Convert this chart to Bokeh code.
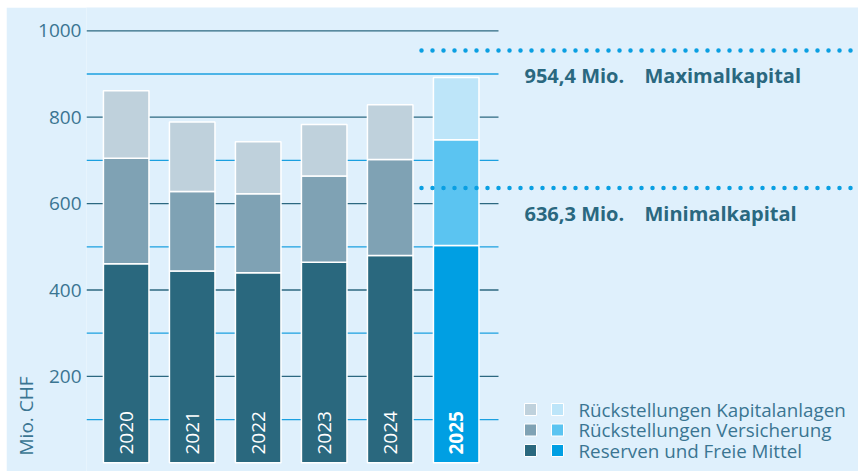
import math
from bokeh.plotting import figure
from bokeh.models import FixedTicker, Range1d, Title
from bokeh.core.properties import value
from bokeh.embed import file_html
from bokeh.resources import INLINE

# ---------------- data ----------------
years = ["2020", "2021", "2022", "2023", "2024", "2025"]
reserven = [461, 444, 440, 464, 480, 503]          # Reserven und Freie Mittel
versicherung = [244, 184, 183, 200, 222, 245]      # Rückstellungen Versicherung
kapitalanlagen = [156, 161, 120, 119, 127, 144]    # Rückstellungen Kapitalanlagen
y_ticks = [200, 400, 600, 800, 1000]
grid_major = [200, 400, 600, 800, 1000]
grid_minor = [100, 300, 500, 700, 900]
max_kapital = 954.4
min_kapital = 636.3
max_value_label = "954,4 Mio."
min_value_label = "636,3 Mio."
max_name = "Maximalkapital"
min_name = "Minimalkapital"
legend_labels = ["Rückstellungen Kapitalanlagen", "Rückstellungen Versicherung", "Reserven und Freie Mittel"]
axis_title = "Mio. CHF"

# ---------------- styles ----------------
BG = "#dff0fc"
C_KAP = ["#bfd1dc"] * 5 + ["#bde5f9"]
C_VER = ["#7fa2b4"] * 5 + ["#5bc4f1"]
C_RES = ["#2a687e"] * 5 + ["#009fe3"]
MAJOR = "#2c6880"
MINOR = "#1ba0e0"
DOTS = "#0a9fe2"
TXT = "#3a7592"
BOLDTXT = "#2a6880"
FONT = "Open Sans"

FIG_L, FIG_T = 6, 7
FIG_W, FIG_H = 858 - FIG_L, 471 - FIG_T
FRAME_L = 86                      # page px of frame left
PX = 66.0                         # px per category
X0 = -(125.7 - FRAME_L) / PX
X1 = X0 + (858 - FRAME_L) / PX
def xpx(px):                      # page px -> data x
    return (px - FRAME_L) / PX + X0

YPX = 0.432                       # px per unit
ZERO_PX = 462.3                   # page px of value 0
Y0 = -(471 - ZERO_PX) / YPX
Y1 = (ZERO_PX - FIG_T) / YPX
def ypx(py):                      # page px -> data y
    return (ZERO_PX - py) / YPX

p = figure(width=FIG_W, height=FIG_H, output_backend="svg", toolbar_location=None,
           x_range=Range1d(X0, X1), y_range=Range1d(Y0, Y1),
           x_axis_location=None, min_border_left=FRAME_L - FIG_L, min_border_right=0,
           min_border_top=0, min_border_bottom=0)
p.margin = (FIG_T, 0, 0, FIG_L)
p.background_fill_color = BG
p.border_fill_color = BG
p.outline_line_color = None
p.grid.visible = False

ax = p.yaxis[0]
ax.ticker = FixedTicker(ticks=y_ticks)
ax.axis_line_color = None
ax.major_tick_line_color = None
ax.minor_tick_line_color = None
ax.major_tick_out = 0
ax.major_tick_in = 0
ax.major_label_standoff = 5
ax.major_label_text_font = FONT
ax.major_label_text_font_size = "19px"
ax.major_label_text_color = TXT

# axis title at the bottom of the left side
p.add_layout(Title(text=axis_title, align="left", offset=16, standoff=-6,
                   text_font=FONT, text_font_size="19px", text_font_style="normal",
                   text_color=TXT), "left")

# gridlines
gx1 = xpx(498)
p.segment(x0=[X0] * len(grid_minor), y0=grid_minor, x1=[gx1] * len(grid_minor), y1=grid_minor,
          line_color=MINOR, line_width=1.3)
p.segment(x0=[X0] * len(grid_major), y0=grid_major, x1=[gx1] * len(grid_major), y1=grid_major,
          line_color=MAJOR, line_width=1.3)

# stacked bars
xs = list(range(len(years)))
b1 = [0] * len(years)
t1 = reserven
b2 = t1
t2 = [a + b for a, b in zip(reserven, versicherung)]
b3 = t2
t3 = [a + b for a, b in zip(t2, kapitalanlagen)]
BW = 0.69
p.vbar(x=xs, width=BW, bottom=b1, top=t1, fill_color=C_RES, line_color="white", line_width=1.5)
p.vbar(x=xs, width=BW, bottom=b2, top=t2, fill_color=C_VER, line_color="white", line_width=1.5)
p.vbar(x=xs, width=BW, bottom=b3, top=t3, fill_color=C_KAP, line_color="white", line_width=1.5)

# year labels inside bars
ylab = ypx(454)
p.text(x=xs[:-1], y=[ylab] * (len(xs) - 1), text=years[:-1], angle=math.pi / 2,
       text_align="left", text_baseline="middle", text_color="white",
       text_font=value(FONT), text_font_size="19px")
p.text(x=xs[-1:], y=[ylab], text=years[-1:], angle=math.pi / 2,
       text_align="left", text_baseline="middle", text_color="white",
       text_font=value(FONT), text_font_size="19px", text_font_style="bold")

# dotted capital lines
dx0 = xpx(421)
for v in (max_kapital, min_kapital):
    p.line(x=[dx0, X1], y=[v, v], line_color=DOTS, line_width=4.5,
           line_dash="0 11", line_cap="round")

gap = 25.5 / YPX
p.text(x=[xpx(524)] * 2, y=[max_kapital - gap, min_kapital - gap],
       text=[max_value_label, min_value_label], text_align="left", text_baseline="alphabetic",
       text_color=BOLDTXT, text_font=value(FONT), text_font_size="20px", text_font_style="bold")
p.text(x=[xpx(644)] * 2, y=[max_kapital - gap, min_kapital - gap],
       text=[max_name, min_name], text_align="left", text_baseline="alphabetic",
       text_color=BOLDTXT, text_font=value(FONT), text_font_size="20px", text_font_style="bold")

# legend (two swatches per row: history / 2025)
ly = [ypx(r) for r in (409, 429.5, 450)]
hist_cols = [C_KAP[0], C_VER[0], C_RES[0]]
new_cols = [C_KAP[-1], C_VER[-1], C_RES[-1]]
p.scatter(x=[xpx(530)] * 3, y=ly, marker="square", size=12, fill_color=hist_cols,
          line_color="white", line_width=1)
p.scatter(x=[xpx(557)] * 3, y=ly, marker="square", size=12, fill_color=new_cols,
          line_color="white", line_width=1)
p.text(x=[xpx(578)] * 3, y=ly, text=legend_labels, text_align="left", text_baseline="middle",
       text_color=TXT, text_font=value(FONT), text_font_size="18.8px")

open("out.html", "w").write(file_html(p, INLINE))
